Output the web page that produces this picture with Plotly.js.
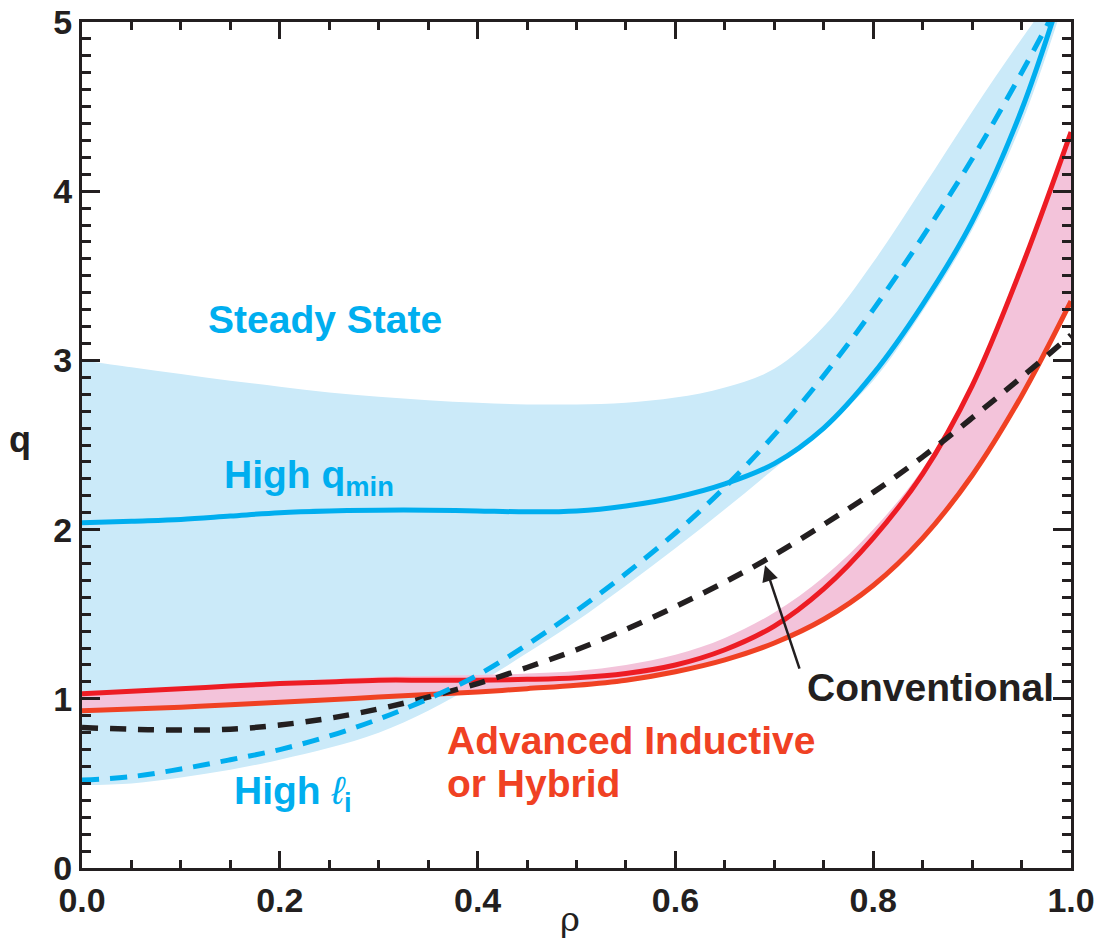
<!DOCTYPE html>
<html>
<head>
<meta charset="utf-8">
<script src="https://cdn.plot.ly/plotly-3.0.1.min.js"></script>
<style>html,body{margin:0;padding:0;background:#fff;}#chart{width:1094px;height:940px;}</style>
</head>
<body>
<div id="chart"></div>
<script>
// rho grid (step 0.05) and q values
const rho = [0, 0.05, 0.1, 0.15, 0.2, 0.25, 0.3, 0.35, 0.4, 0.45, 0.5, 0.55, 0.6, 0.65, 0.7, 0.75, 0.8, 0.85, 0.9, 0.95, 1.0];

// Advanced inductive / hybrid band
const qRedUpper  = [1.03, 1.045, 1.06, 1.075, 1.09, 1.10, 1.11, 1.11, 1.11, 1.115, 1.125, 1.15, 1.20, 1.29, 1.43, 1.65, 1.95, 2.33, 2.85, 3.55, 4.35];
const qRedLower  = [0.93, 0.94, 0.95, 0.965, 0.98, 0.995, 1.01, 1.025, 1.04, 1.06, 1.08, 1.11, 1.16, 1.23, 1.33, 1.47, 1.67, 1.95, 2.32, 2.79, 3.35];
const qPinkUpper = [1.04, 1.055, 1.07, 1.085, 1.10, 1.115, 1.13, 1.135, 1.14, 1.15, 1.165, 1.20, 1.26, 1.36, 1.51, 1.72, 2.00, 2.36, 2.86, 3.55, 4.35];

// High q_min (solid blue), High l_i (dashed blue), Conventional (dashed black)
const qHighQmin = [2.04, 2.05, 2.06, 2.08, 2.10, 2.11, 2.115, 2.115, 2.11, 2.105, 2.11, 2.14, 2.19, 2.27, 2.39, 2.60, 2.92, 3.33, 3.82, 4.48, 5.35];
const qHighLi   = [0.52, 0.54, 0.585, 0.64, 0.70, 0.78, 0.88, 1.00, 1.14, 1.32, 1.52, 1.74, 1.98, 2.25, 2.56, 2.91, 3.30, 3.73, 4.19, 4.70, 5.25];
const qConv     = [0.83, 0.82, 0.815, 0.82, 0.845, 0.885, 0.94, 1.01, 1.09, 1.185, 1.29, 1.41, 1.545, 1.69, 1.85, 2.03, 2.22, 2.43, 2.66, 2.90, 3.15];

// Steady-state band
const qSSUpper = [3.00, 2.96, 2.92, 2.88, 2.845, 2.81, 2.785, 2.765, 2.75, 2.74, 2.74, 2.75, 2.78, 2.84, 2.95, 3.20, 3.58, 4.02, 4.47, 4.90, 5.30];
const qSSLower = [0.49, 0.50, 0.535, 0.58, 0.64, 0.71, 0.80, 0.93, 1.09, 1.27, 1.46, 1.67, 1.89, 2.12, 2.36, 2.60, 2.88, 3.29, 3.77, 4.40, 5.25];

const xTicks = [0, 0.2, 0.4, 0.6, 0.8, 1.0];
const xTickText = ['0.0', '0.2', '0.4', '0.6', '0.8', '1.0'];
const yTicks = [0, 1, 2, 3, 4, 5];

const FONT = '"Liberation Sans", Arial, sans-serif';
const BLUE = '#00aeef', RED = '#ed1c24', ORANGE = '#f04123', BLACK = '#231f20';
const NOLINE = {width: 0, shape: 'spline', color: 'rgba(0,0,0,0)'};

const traces = [
  {x: rho, y: qSSLower, mode: 'lines', line: NOLINE, hoverinfo: 'skip'},
  {x: rho, y: qSSUpper, mode: 'lines', fill: 'tonexty', fillcolor: '#cbeaf9', line: NOLINE, hoverinfo: 'skip'},
  {x: rho, y: qRedLower, mode: 'lines', line: NOLINE, hoverinfo: 'skip'},
  {x: rho, y: qPinkUpper, mode: 'lines', fill: 'tonexty', fillcolor: '#f3c3da', line: NOLINE, hoverinfo: 'skip'},
  {x: rho, y: qRedLower, mode: 'lines', line: {width: 5, shape: 'spline', color: ORANGE}},
  {x: rho, y: qRedUpper, mode: 'lines', line: {width: 5, shape: 'spline', color: RED}},
  {x: rho, y: qConv, mode: 'lines', line: {width: 5.5, shape: 'spline', color: BLACK, dash: '16px,12px'}},
  {x: rho, y: qHighLi, mode: 'lines', line: {width: 5, shape: 'spline', color: BLUE, dash: '17px,11px'}},
  {x: rho, y: qHighQmin, mode: 'lines', line: {width: 5, shape: 'spline', color: BLUE}}
];

function ann(text, x, y, color, xanchor) {
  return {text: text, x: x, y: y, xref: 'x', yref: 'y', showarrow: false, xanchor: xanchor || 'left', yanchor: 'middle',
          font: {family: FONT, size: 39, color: color}};
}

const layout = {
  width: 1094, height: 940,
  margin: {l: 82, r: 23, t: 22, b: 72},
  paper_bgcolor: '#ffffff', plot_bgcolor: '#ffffff',
  showlegend: false,
  font: {family: FONT, color: BLACK},
  xaxis: {
    range: [0, 1], tickvals: xTicks, ticktext: xTickText,
    ticks: 'inside', ticklen: 17, tickwidth: 3, tickcolor: BLACK,
    minor: {dtick: 0.05, ticks: 'inside', ticklen: 8, tickwidth: 3, tickcolor: BLACK},
    showline: true, linewidth: 3, linecolor: BLACK, mirror: 'allticks',
    showgrid: false, zeroline: false, ticklabeloverflow: 'allow',
    tickfont: {family: FONT, size: 34, color: BLACK, weight: 'bold'}
  },
  yaxis: {
    range: [0, 5], tickvals: yTicks,
    ticks: 'inside', ticklen: 18, tickwidth: 3, tickcolor: BLACK,
    minor: {dtick: 0.1, ticks: 'inside', ticklen: 9, tickwidth: 3, tickcolor: BLACK},
    showline: true, linewidth: 3, linecolor: BLACK, mirror: 'allticks',
    showgrid: false, zeroline: false, ticklabeloverflow: 'allow',
    tickfont: {family: FONT, size: 34, color: BLACK, weight: 'bold'}
  },
  annotations: [
    ann('<b>Steady State</b>', 0.2457, 3.24, BLUE, 'center'),
    ann('<b>High q<sub>min</sub></b>', 0.1416, 2.31, BLUE),
    ann('<b>High </b><i>ℓ</i><sub><b>i</b></sub>', 0.1517, 0.44, BLUE),
    ann('<b>Conventional</b>', 0.731, 1.064, BLACK),
    ann('<b>Advanced Inductive</b>', 0.367, 0.755, ORANGE),
    ann('<b>or Hybrid</b>', 0.367, 0.50, ORANGE),
    {text: '', x: 0.6906, y: 1.79, xref: 'x', yref: 'y', showarrow: true, ax: 35, ay: 105,
     arrowhead: 2, arrowsize: 1.3, arrowwidth: 2.5, arrowcolor: BLACK},
    {text: '<b>q</b>', x: -0.0627, y: 0.506, xref: 'paper', yref: 'paper', showarrow: false,
     xanchor: 'center', yanchor: 'middle', font: {family: FONT, size: 36, color: BLACK}},
    {text: 'ρ', x: 0.493, y: -0.060, xref: 'paper', yref: 'paper', showarrow: false,
     xanchor: 'center', yanchor: 'middle', font: {family: '"DejaVu Serif", serif', size: 34, color: BLACK}}
  ]
};

Plotly.newPlot('chart', traces, layout, {staticPlot: true, displayModeBar: false});
</script>
</body>
</html>
